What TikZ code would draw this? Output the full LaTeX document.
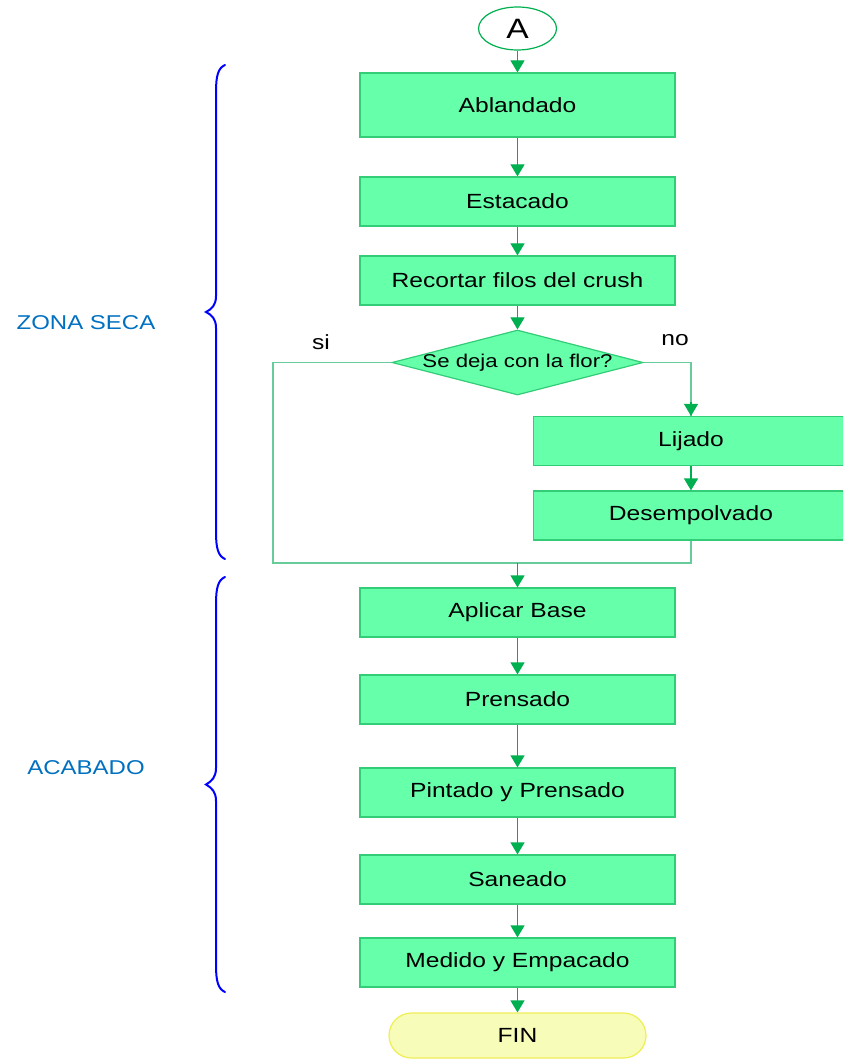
\documentclass[tikz,border=0pt]{standalone}
\usepackage{fontspec}
\setmainfont[FakeStretch=1.2]{Liberation Sans}
\usetikzlibrary{arrows.meta,shapes.geometric,shapes.misc}

\definecolor{boxfill}{HTML}{66FFAA}
\definecolor{boxline}{HTML}{33CC77}
\definecolor{flowline}{HTML}{00B050}
\definecolor{loopline}{HTML}{66CC99}
\definecolor{endfill}{HTML}{F7FCB9}
\definecolor{endline}{HTML}{EEEE55}
\definecolor{zonetext}{HTML}{0070C0}
\definecolor{bracecol}{HTML}{0000FF}

\tikzset{
  stepbox/.style={draw=boxline, fill=boxfill, line width=1.2pt,
    minimum width=315pt, minimum height=49pt, inner sep=0pt,
    font=\fontsize{20.5}{24}\selectfont},
  flow/.style={draw=flowline, line width=1.2pt,
    -{Triangle[width=14pt,length=12pt]}},
  loop/.style={draw=loopline, line width=1.2pt},
  tag/.style={font=\fontsize{20.5}{24}\selectfont},
  zone/.style={font=\fontsize{20}{24}\selectfont, text=zonetext},
  bracket/.style={draw=bracecol, line width=2pt, line cap=round},
}

\begin{document}
\begin{tikzpicture}[x=1pt, y=-1pt]
  \clip (0,0) rectangle (843,1059);

  % start connector
  \node (start) [ellipse, draw=flowline, fill=white, line width=1.2pt,
    minimum width=78pt, minimum height=43pt, inner sep=0pt,
    font=\fontsize{28}{32}\selectfont] at (517.5,28.5) {A};

  % dry zone steps
  \node (ablandado) [stepbox, minimum height=64pt] at (517.5,105) {Ablandado};
  \node (estacado)  [stepbox] at (517.5,201.5) {Estacado};
  \node (recortar)  [stepbox] at (517.5,280.5) {Recortar filos del crush};

  \node (decision) [diamond, draw=boxline, fill=boxfill, line width=1.2pt,
    minimum width=251pt, minimum height=65pt, inner sep=0pt,
    label={[font=\fontsize{18.5}{22}\selectfont]center:Se deja con la flor?}]
    at (517.5,362.5) {};

  \node (lijado) [stepbox] at (691,441) {Lijado};
  \node (desemp) [stepbox] at (691,515.5) {Desempolvado};

  % finishing steps
  \node (base)     [stepbox] at (517.5,612.5) {Aplicar Base};
  \node (prensado) [stepbox] at (517.5,699.5) {Prensado};
  \node (pintado)  [stepbox] at (517.5,792.5) {Pintado y Prensado};
  \node (saneado)  [stepbox] at (517.5,879.5) {Saneado};
  \node (medido)   [stepbox] at (517.5,962.5) {Medido y Empacado};

  \node (fin) [rounded rectangle, draw=endline, fill=endfill, line width=1.2pt,
    minimum width=257pt, minimum height=45pt, inner sep=0pt,
    font=\fontsize{20.5}{24}\selectfont] at (517.5,1035.5) {FIN};

  % branch labels
  \node (si) [tag] at (321,342) {si};
  \node (no) [tag] at (675,340) {no};

  % main flow
  \draw[flow] (start) -- (ablandado);
  \draw[flow] (ablandado) -- (estacado);
  \draw[flow] (estacado) -- (recortar);
  \draw[flow] (recortar) -- (decision);
  \draw[loop] (decision.east) -| (lijado.north);
  \draw[flow] (lijado.north) ++(0,-14) -- (lijado.north);
  \draw[flow] (lijado) -- (desemp);

  \coordinate (merge) at (517.5,563);
  \coordinate (leftcorner) at (273,563);
  \draw[loop] (decision.west) -| (leftcorner) -- (merge);
  \draw[loop] (desemp.south) |- (merge);
  \draw[flow] (merge) -- (base);

  \draw[flow] (base) -- (prensado);
  \draw[flow] (prensado) -- (pintado);
  \draw[flow] (pintado) -- (saneado);
  \draw[flow] (saneado) -- (medido);
  \draw[flow] (medido) -- (fin);

  % zone braces and titles
  \draw[bracket] (225,65) .. controls (218,68) and (216,76) .. (216,92)
    -- (216,296) .. controls (216,305) and (212,309) .. (206,312)
    .. controls (212,315) and (216,319) .. (216,328)
    -- (216,532) .. controls (216,548) and (218,556) .. (225,559);
  \node (seca) [zone] at (86,323) {ZONA SECA};

  \draw[bracket] (225,577) .. controls (218,580) and (216,588) .. (216,604)
    -- (216,768) .. controls (216,777) and (212,781) .. (206,784.5)
    .. controls (212,788) and (216,792) .. (216,801)
    -- (216,965) .. controls (216,981) and (218,989) .. (225,992);
  \node (acabado) [zone] at (86,768) {ACABADO};
\end{tikzpicture}
\end{document}
